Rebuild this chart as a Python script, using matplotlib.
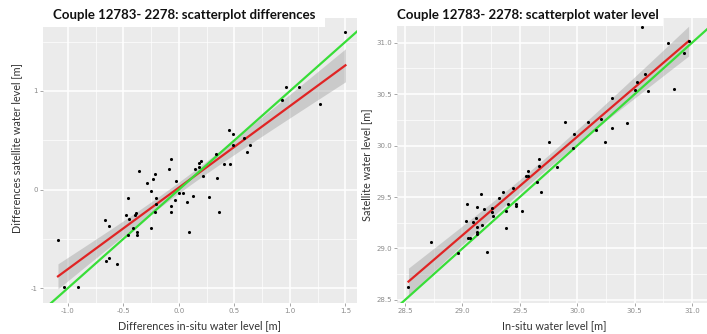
import numpy as np
import matplotlib
matplotlib.use('Agg')
import matplotlib.pyplot as plt
from matplotlib.patches import Rectangle
from matplotlib.ticker import MultipleLocator, FormatStrFormatter

# left panel: differences
diff_insitu = [1.50, 0.96, 1.08, 0.93, 1.27, 0.45, 0.49, 0.59, 0.49, 0.64,
               0.61, 0.33, -0.07, 0.20, 0.18, 0.18, 0.41, 0.46, -0.09, 0.14,
               -0.36, -0.22, -0.23, -0.29, 0.22, -0.03, -0.25, -0.46, -0.21, 0.00,
               0.04, 0.13, -0.04, 0.27, 0.34, 0.07, -0.21, -0.07, -0.07, -0.22,
               0.36, -0.48, -0.39, -0.40, -0.45, -0.67, -0.63, -0.41, -0.25, -0.38,
               -0.38, -0.46, 0.09, -1.09, -0.66, -0.63, -0.56, -1.04, -0.91]
diff_sat = [1.60, 1.04, 1.04, 0.91, 0.87, 0.60, 0.56, 0.52, 0.45, 0.45,
            0.38, 0.36, 0.31, 0.29, 0.27, 0.23, 0.26, 0.26, 0.21, 0.21,
            0.19, 0.16, 0.11, 0.07, 0.14, 0.09, -0.02, -0.09, -0.09, -0.04,
            -0.04, -0.07, -0.11, -0.08, 0.12, -0.13, -0.15, -0.17, -0.23, -0.23,
            -0.23, -0.26, -0.24, -0.26, -0.30, -0.31, -0.37, -0.39, -0.39, -0.43,
            -0.46, -0.46, -0.43, -0.51, -0.73, -0.70, -0.76, -0.99, -0.99]

# right panel: water levels
wl_insitu = [30.56, 30.79, 30.93, 30.97, 30.59, 30.52, 30.50, 30.62, 30.84, 30.30,
             29.89, 30.09, 30.43, 30.21, 29.97, 30.30, 30.16, 29.75, 30.24, 29.96,
             29.67, 29.67, 29.82, 29.57, 29.55, 29.57, 29.65, 29.44, 29.35, 29.16,
             29.68, 29.32, 29.04, 29.13, 29.40, 29.47, 29.47, 29.19, 29.26, 29.38,
             29.52, 29.03, 29.09, 29.12, 29.17, 29.13, 29.13, 29.13, 29.05, 29.07,
             29.27, 29.38, 28.73, 28.96, 29.21, 28.53, 29.26, 29.91]
wl_sat = [31.15, 31.00, 30.90, 31.02, 30.70, 30.62, 30.54, 30.53, 30.55, 30.46,
          30.23, 30.23, 30.22, 30.26, 30.11, 30.17, 30.15, 30.03, 30.03, 29.98,
          29.87, 29.80, 29.79, 29.75, 29.70, 29.70, 29.65, 29.59, 29.55, 29.53,
          29.55, 29.49, 29.43, 29.40, 29.43, 29.43, 29.41, 29.38, 29.39, 29.36,
          29.36, 29.27, 29.26, 29.30, 29.23, 29.21, 29.16, 29.14, 29.10, 29.10,
          29.32, 29.20, 29.06, 28.96, 28.97, 28.63, 29.35, 31.21]

W, H = 707, 334
BG = '#EBEBEB'
FONT = 'Lato'


def fig_box(x0, y0, x1, y1):
    # pixel box (top-left origin) -> figure fraction rect
    return [x0 / W, 1 - y1 / H, (x1 - x0) / W, (y1 - y0) / H]


def smooth(ax, x, y):
    x = np.asarray(x)
    y = np.asarray(y)
    b, a = np.polyfit(x, y, 1)
    xs = np.linspace(x.min(), x.max(), 80)
    fit = a + b * xs
    n = len(x)
    resid = y - (a + b * x)
    s = np.sqrt(np.sum(resid ** 2) / (n - 2))
    se = s * np.sqrt(1 / n + (xs - x.mean()) ** 2 / np.sum((x - x.mean()) ** 2))
    ax.fill_between(xs, fit - 2.0 * se, fit + 2.0 * se, color='#999999', alpha=0.4,
                    lw=0, zorder=2)
    ax.plot(xs, fit, color='#E02424', lw=1.6, zorder=3)


def style(ax, xmaj, ymaj, xfmt, yfmt):
    ax.set_facecolor(BG)
    for sp in ax.spines.values():
        sp.set_visible(False)
    ax.xaxis.set_major_locator(MultipleLocator(xmaj))
    ax.xaxis.set_minor_locator(MultipleLocator(xmaj / 2))
    ax.yaxis.set_major_locator(MultipleLocator(ymaj))
    ax.yaxis.set_minor_locator(MultipleLocator(ymaj / 2))
    ax.xaxis.set_major_formatter(FormatStrFormatter(xfmt))
    ax.yaxis.set_major_formatter(FormatStrFormatter(yfmt))
    ax.grid(which='major', color='white', lw=1.1)
    ax.grid(which='minor', color='white', lw=0.5)
    ax.set_axisbelow(True)
    ax.tick_params(which='major', length=2, width=0.6, color='#999999',
                   labelsize=5, labelcolor='#8A8A8A', pad=1.5)
    ax.tick_params(which='minor', length=0)


fig = plt.figure(figsize=(W / 100, H / 100), dpi=100)

ax1 = fig.add_axes(fig_box(43, 18, 357, 303))
style(ax1, 0.5, 1, '%.1f', '%d')
ax1.set_xlim(-1.225, 1.604)
ax1.set_ylim(-1.152, 1.741)
ax1.axline((0, 0), slope=1, color='#38DE38', lw=1.6, zorder=4)
smooth(ax1, diff_insitu, diff_sat)
ax1.scatter(diff_insitu, diff_sat, s=5, color='black', zorder=5, lw=0)

ax2 = fig.add_axes(fig_box(397, 18, 707, 303))
style(ax2, 0.5, 0.5, '%.1f', '%.1f')
ax2.set_xlim(28.43, 31.13)
ax2.set_ylim(28.47, 31.24)
ax2.axline((29, 29), slope=1, color='#38DE38', lw=1.6, zorder=4)
smooth(ax2, wl_insitu, wl_sat)
ax2.scatter(wl_insitu, wl_sat, s=5, color='black', zorder=5, lw=0)

# white title boxes pasted over the panels
fig.add_artist(Rectangle((0, 1 - 27 / H), 325 / W, 27 / H, transform=fig.transFigure,
                         facecolor='white', edgecolor='none', zorder=5))
fig.add_artist(Rectangle((357 / W, 1 - 26 / H), (663 - 357) / W, 26 / H,
                         transform=fig.transFigure, facecolor='white',
                         edgecolor='none', zorder=5))

fig.text(184 / W, 1 - 15 / H, 'Couple 12783- 2278: scatterplot differences',
         ha='center', va='center', fontsize=9.5, fontweight='bold', family=FONT,
         color='#111111', zorder=6)
fig.text(528 / W, 1 - 15 / H, 'Couple 12783- 2278: scatterplot water level',
         ha='center', va='center', fontsize=9.5, fontweight='bold', family=FONT,
         color='#111111', zorder=6)

fig.text(200 / W, 1 - 326 / H, 'Differences in-situ water level [m]', ha='center',
         va='center', fontsize=7.8, family=FONT, color='#333333')
fig.text(17 / W, 1 - 148 / H, 'Differences satellite water level [m]', ha='center',
         va='center', rotation=90, fontsize=7.8, family=FONT, color='#333333')
fig.text(554 / W, 1 - 326 / H, 'In-situ water level [m]', ha='center',
         va='center', fontsize=7.8, family=FONT, color='#333333')
fig.text(367 / W, 1 - 165 / H, 'Satellite water level [m]', ha='center',
         va='center', rotation=90, fontsize=7.8, family=FONT, color='#333333')

fig.savefig('out.png', dpi=100, facecolor='white')
